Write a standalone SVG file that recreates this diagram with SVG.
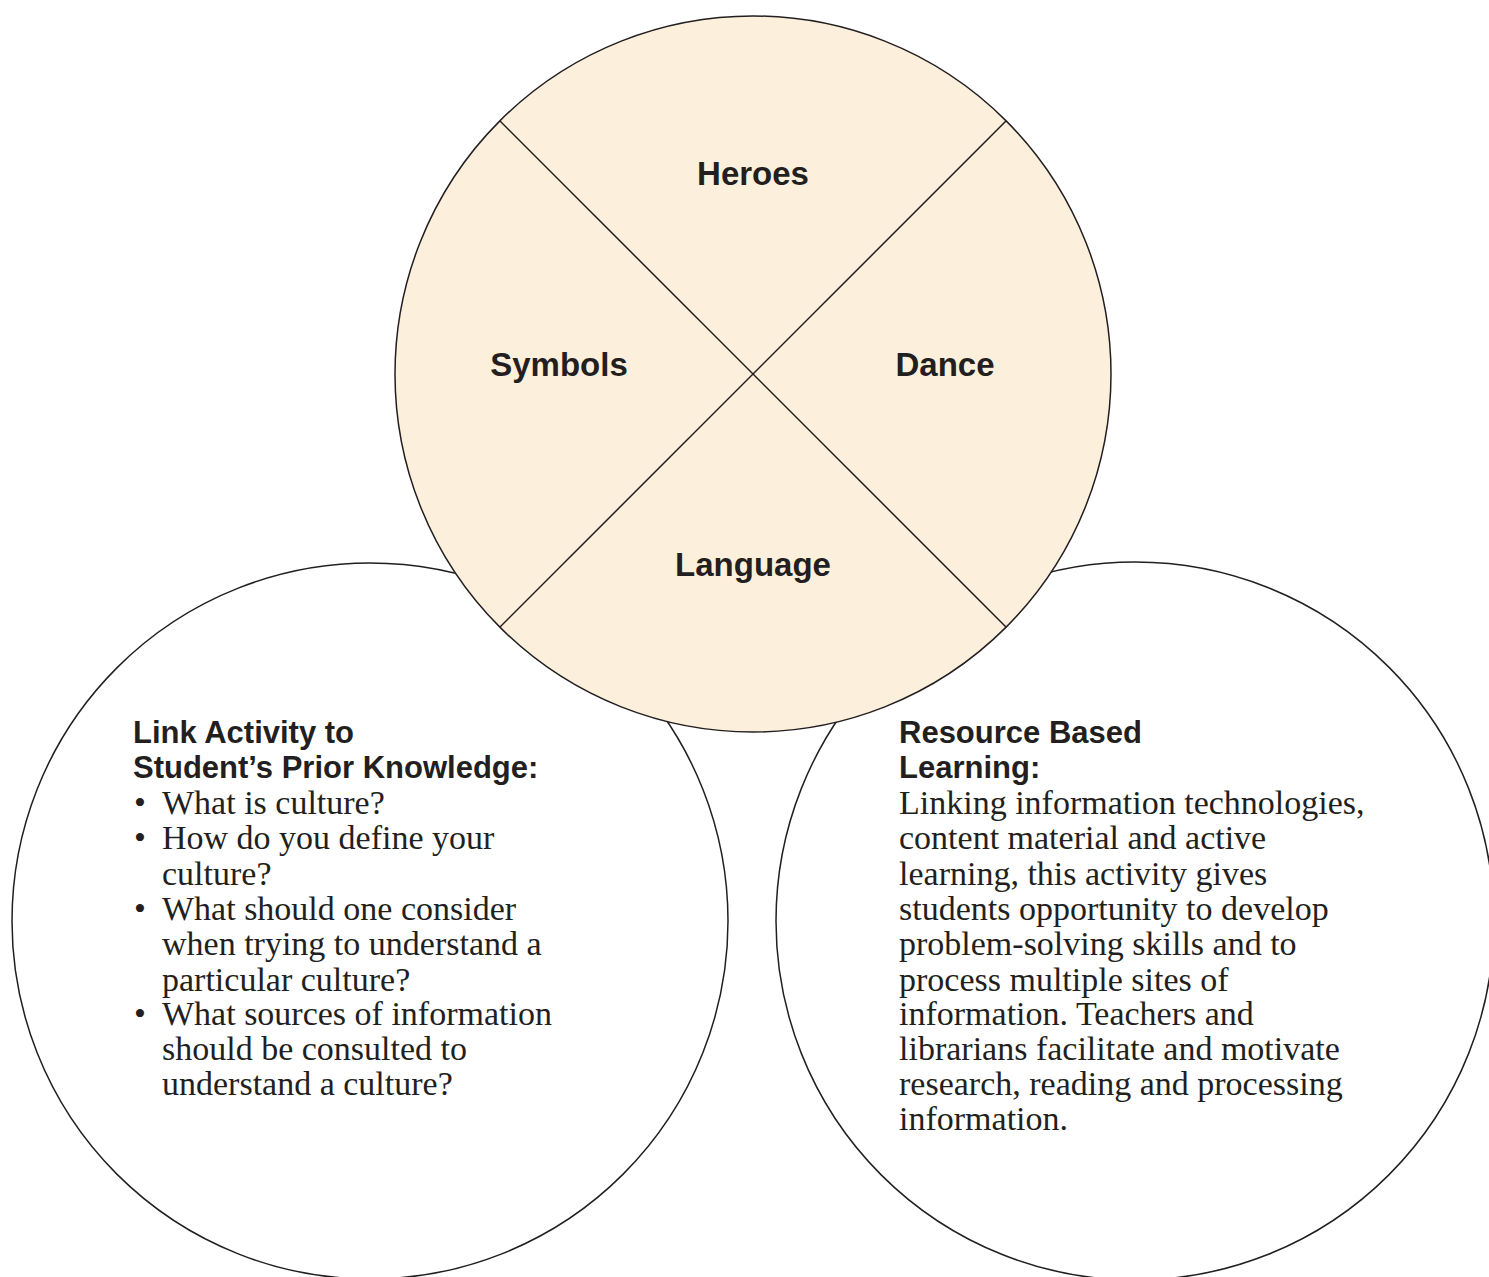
<svg xmlns="http://www.w3.org/2000/svg" width="1489" height="1277" viewBox="0 0 1489 1277">
<style>
.c{stroke:#231f20;stroke-width:1.5}
.lbl{font-family:"Liberation Sans",Arial,sans-serif;font-weight:bold;font-size:33px;fill:#231f20;text-anchor:middle}
.hd{font-family:"Liberation Sans",Arial,sans-serif;font-weight:bold;font-size:31px;fill:#231f20}
.bd{font-family:"Liberation Serif","Times New Roman",serif;font-size:34px;fill:#231f20}
</style>
<rect width="1489" height="1277" fill="#ffffff"/>
<g id="node-prior-knowledge">
<circle class="c" cx="370" cy="921" r="358" fill="#ffffff"/>
<text class="hd" x="133" y="743">Link Activity to</text>
<text class="hd" x="133" y="778">Student’s Prior Knowledge:</text>
<g class="bd">
<text x="134" y="814">•</text><text x="162" y="814">What is culture?</text>
<text x="134" y="849">•</text><text x="162" y="849">How do you define your</text>
<text x="162" y="885">culture?</text>
<text x="134" y="920">•</text><text x="162" y="920">What should one consider</text>
<text x="162" y="955">when trying to understand a</text>
<text x="162" y="991">particular culture?</text>
<text x="134" y="1025">•</text><text x="162" y="1025">What sources of information</text>
<text x="162" y="1060">should be consulted to</text>
<text x="162" y="1095">understand a culture?</text>
</g>
</g>
<g id="node-resource-based">
<circle class="c" cx="1135" cy="921" r="359" fill="#ffffff"/>
<text class="hd" x="899" y="743">Resource Based</text>
<text class="hd" x="899" y="778">Learning:</text>
<g class="bd">
<text x="899" y="814">Linking information technologies,</text>
<text x="899" y="849">content material and active</text>
<text x="899" y="885">learning, this activity gives</text>
<text x="899" y="920">students opportunity to develop</text>
<text x="899" y="955">problem-solving skills and to</text>
<text x="899" y="991">process multiple sites of</text>
<text x="899" y="1025">information. Teachers and</text>
<text x="899" y="1060">librarians facilitate and motivate</text>
<text x="899" y="1095">research, reading and processing</text>
<text x="899" y="1130">information.</text>
</g>
</g>
<g id="node-culture">
<circle class="c" cx="753" cy="374" r="358" fill="#fcf0dc"/>
</g>
<g id="connectors">
<line class="c" x1="500" y1="121" x2="1006" y2="627"/>
<line class="c" x1="1006" y1="121" x2="500" y2="627"/>
</g>
<g id="node-heroes"><text class="lbl" x="753" y="185">Heroes</text></g>
<g id="node-symbols"><text class="lbl" x="559" y="376">Symbols</text></g>
<g id="node-dance"><text class="lbl" x="945" y="376">Dance</text></g>
<g id="node-language"><text class="lbl" x="753" y="576">Language</text></g>
</svg>
